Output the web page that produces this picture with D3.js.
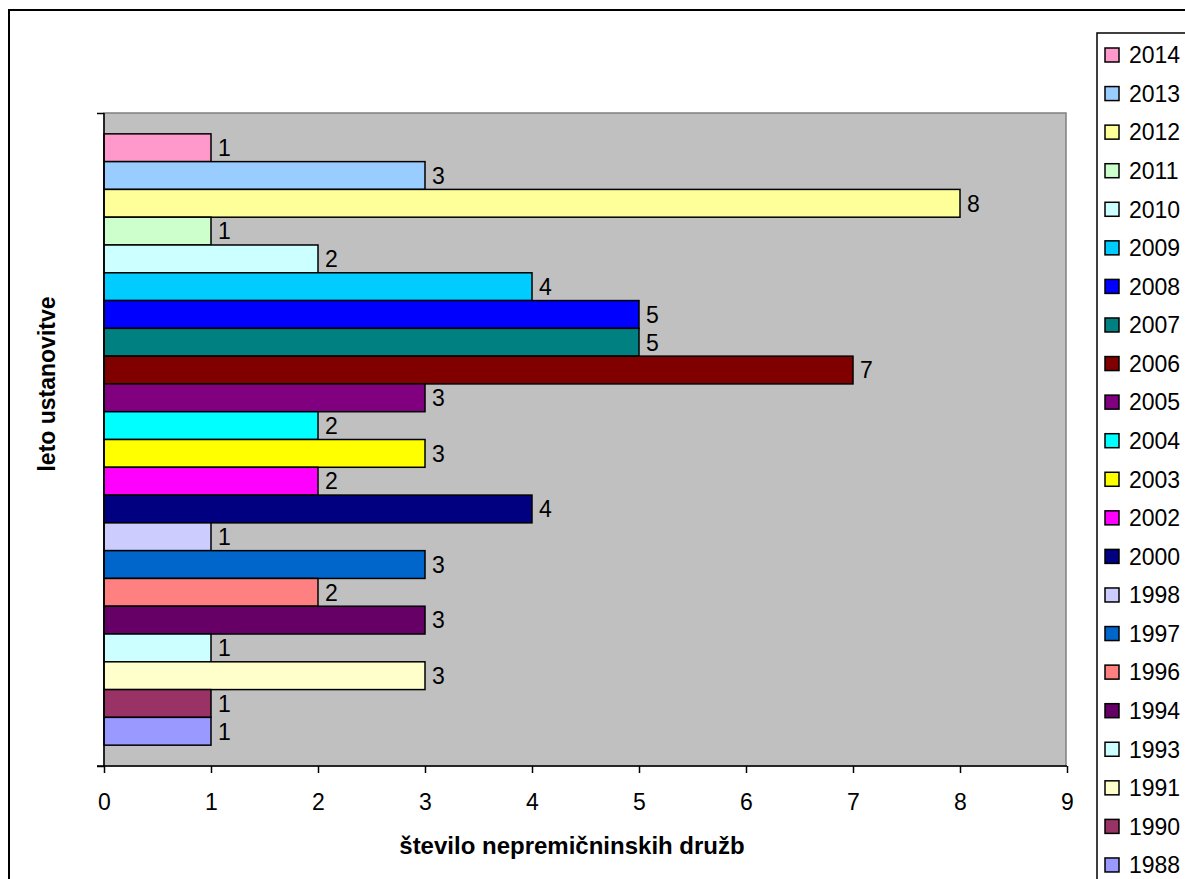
<!DOCTYPE html>
<html>
<head>
<meta charset="utf-8">
<script src="https://cdn.jsdelivr.net/npm/d3@7"></script>
<style>
  html, body { margin: 0; padding: 0; background: #fff; }
  svg { display: block; font-family: "Liberation Sans", Arimo, Arial, sans-serif; }
</style>
</head>
<body>
<svg id="chart" width="1185" height="879"></svg>
<script>
// Founding years (one series each), top to bottom
const years = ["2014","2013","2012","2011","2010","2009","2008","2007","2006","2005","2004",
               "2003","2002","2000","1998","1997","1996","1994","1993","1991","1990","1988"];
// Number of real-estate companies founded in each year
const counts = [1,3,8,1,2,4,5,5,7,3,2,3,2,4,1,3,2,3,1,3,1,1];
// Series fill colours
const colors = ["#FF99CC","#99CCFF","#FFFF99","#CCFFCC","#CCFFFF","#00CCFF","#0000FF","#008080",
                "#800000","#800080","#00FFFF","#FFFF00","#FF00FF","#000080","#CCCCFF","#0066CC",
                "#FF8080","#660066","#CCFFFF","#FFFFCC","#993366","#9999FF"];
const xTicks = [0,1,2,3,4,5,6,7,8,9];
const xTitle = "število nepremičninskih družb";
const yTitle = "leto ustanovitve";

const data = years.map((y, i) => ({ year: y, value: counts[i], color: colors[i] }));

const FONT = "'Liberation Sans', Arimo, Arial, sans-serif";
const svg = d3.select("#chart");
const FS = 23;

// Chart frame
svg.append("rect")
  .attr("x", 9).attr("y", 10).attr("width", 1300).attr("height", 1000)
  .attr("fill", "#fff").attr("stroke", "#000").attr("stroke-width", 2);

const plot = { left: 104, right: 1066, top: 113, bottom: 766 };

const x = d3.scaleLinear().domain([0, 9]).range([plot.left, plot.right + 1]);
const y = d3.scaleBand().domain(years).range([plot.top, plot.bottom])
  .paddingInner(0).paddingOuter(0.75);

// Plot area
svg.append("rect")
  .attr("x", plot.left).attr("y", plot.top)
  .attr("width", plot.right - plot.left).attr("height", plot.bottom - plot.top)
  .attr("fill", "#C0C0C0").attr("stroke", "#808080").attr("stroke-width", 1.5);

// Bars
svg.append("g").selectAll("rect").data(data).join("rect")
  .attr("x", x(0))
  .attr("y", d => y(d.year))
  .attr("width", d => x(d.value) - x(0))
  .attr("height", y.bandwidth())
  .attr("fill", d => d.color)
  .attr("stroke", "#000").attr("stroke-width", 1.5);

// Value labels
svg.append("g").selectAll("text").data(data).join("text")
  .attr("x", d => x(d.value) + 7)
  .attr("y", d => y(d.year) + y.bandwidth() / 2)
  .attr("dy", "0.36em")
  .attr("font-family", FONT)
  .attr("font-size", FS).attr("fill", "#000")
  .text(d => d.value);

// X axis
const xAxis = svg.append("g")
  .attr("transform", `translate(0,${plot.bottom})`)
  .call(d3.axisBottom(x).tickValues(xTicks).tickSize(7).tickPadding(21).tickFormat(d3.format("d")));
xAxis.select(".domain").attr("stroke", "#000").attr("stroke-width", 1.5)
  .attr("d", `M${plot.left - 7},0H${plot.right + 1}`);
xAxis.selectAll(".tick line").attr("stroke", "#000").attr("stroke-width", 1.5);
xAxis.selectAll(".tick text").attr("font-size", FS).attr("font-family", FONT)
  .attr("fill", "#000");

// Y axis (single category: tick marks at its bounds)
const yEdge = d3.scaleLinear().domain([0, 1]).range([plot.bottom, plot.top]);
const yAxis = svg.append("g")
  .attr("transform", `translate(${plot.left},0)`)
  .call(d3.axisLeft(yEdge).tickValues([0, 1]).tickSize(7).tickFormat(""));
yAxis.select(".domain").attr("stroke", "#000").attr("stroke-width", 1.5)
  .attr("d", `M0,${plot.top}V${plot.bottom}`);
yAxis.selectAll(".tick line").attr("stroke", "#000").attr("stroke-width", 1.5);

// Axis titles
svg.append("text")
  .attr("x", 572).attr("y", 845).attr("dy", "0.36em")
  .attr("text-anchor", "middle").attr("font-family", FONT)
  .attr("font-size", 24).attr("font-weight", "bold")
  .text(xTitle);
svg.append("text")
  .attr("transform", "translate(47,384) rotate(-90)")
  .attr("dy", "0.36em")
  .attr("text-anchor", "middle").attr("font-family", FONT)
  .attr("font-size", FS).attr("font-weight", "bold")
  .text(yTitle);

// Legend
const legendTop = 55, legendStep = 38.57;
svg.append("rect")
  .attr("x", 1097).attr("y", 33).attr("width", 200).attr("height", 900)
  .attr("fill", "#fff").attr("stroke", "#000").attr("stroke-width", 1.5);
const lg = svg.append("g").selectAll("g").data(data).join("g")
  .attr("transform", (d, i) => `translate(1105,${legendTop + i * legendStep})`);
lg.append("rect")
  .attr("x", 0).attr("y", -7).attr("width", 14).attr("height", 14)
  .attr("fill", d => d.color).attr("stroke", "#000").attr("stroke-width", 1.5);
lg.append("text")
  .attr("x", 24).attr("y", 0).attr("dy", "0.36em")
  .attr("font-family", FONT)
  .attr("font-size", FS).attr("fill", "#000")
  .text(d => d.year);
</script>
</body>
</html>
